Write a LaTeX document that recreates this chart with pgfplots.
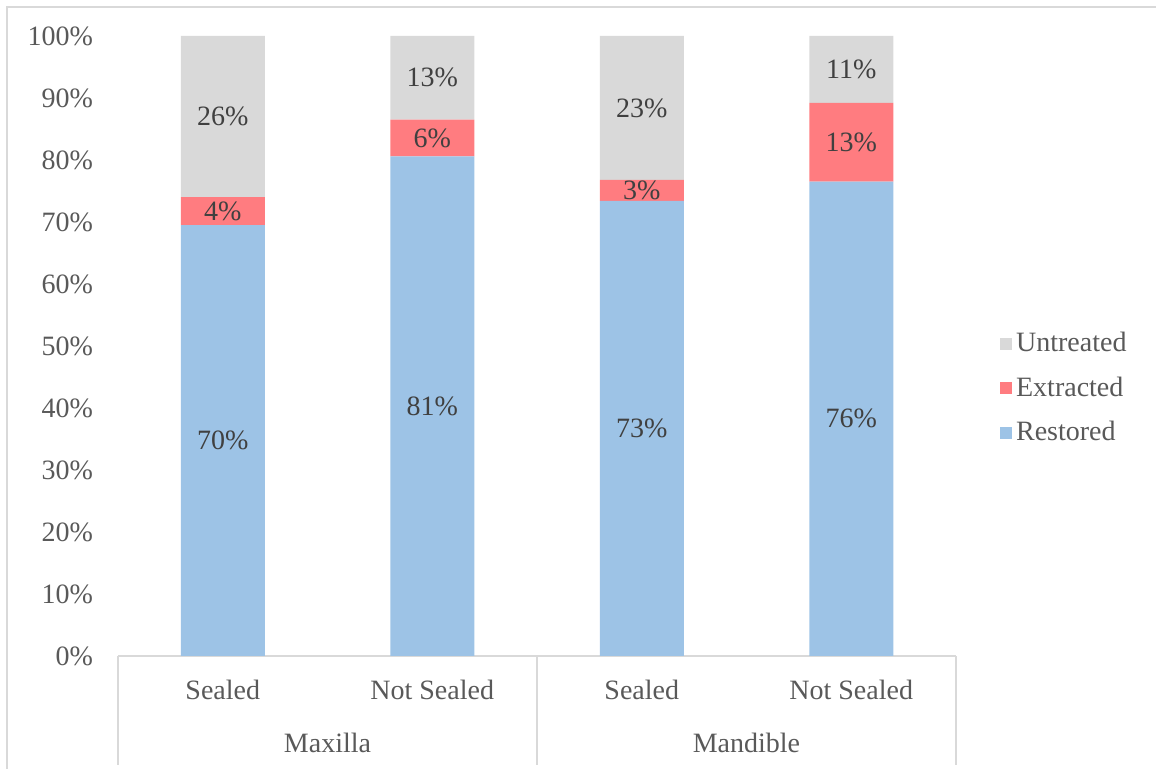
\documentclass[border=0pt]{standalone}
\usepackage{pgfplots}
\usepackage{pgfplotstable}
\pgfplotsset{compat=1.18}
\usepackage{fontspec}
\setmainfont{Liberation Serif}
\definecolor{cRest}{HTML}{9DC3E6}
\definecolor{cExt}{HTML}{FF7C80}
\definecolor{cUnt}{HTML}{D9D9D9}
\definecolor{tickc}{HTML}{595959}
\definecolor{labc}{HTML}{404040}
\definecolor{linec}{HTML}{D9D9D9}

\pgfplotstableread{
x r rl e el u ul
0 69.5 70 4.5 4 26.0 26
1 80.6 81 5.9 6 13.5 13
2 73.4 73 3.4 3 23.2 23
3 76.5 76 12.7 13 10.8 11
}\datatable

\begin{document}
\begin{tikzpicture}
\useasboundingbox (0,0) rectangle (578pt,384.5pt);
\draw[linec, line width=0.7pt] (3.5pt,0) -- (3.5pt,381pt) -- (578pt,381pt);
\begin{axis}[
  at={(59pt,56.5pt)}, anchor=south west,
  scale only axis, width=419pt, height=310pt,
  ybar stacked, bar width=42pt,
  xmin=-0.5, xmax=3.5, ymin=0, ymax=100,
  axis x line*=bottom, axis y line*=left,
  y axis line style={draw=none},
  x axis line style={draw=linec, line width=0.7pt},
  ytick={0,10,...,100},
  yticklabels={0\%,10\%,20\%,30\%,40\%,50\%,60\%,70\%,80\%,90\%,100\%},
  ytick style={draw=none},
  yticklabel style={font=\fontsize{14}{16}\selectfont, text=tickc, anchor=east, xshift=-9pt},
  xtick={0,1,2,3},
  xticklabels={Sealed,Not Sealed,Sealed,Not Sealed},
  major tick length=0pt,
  xtick style={draw=linec, line width=0.7pt},
  xticklabel style={font=\fontsize{14}{16}\selectfont, text=tickc, anchor=center, yshift=-17pt},
  extra x ticks={-0.5,1.5,3.5},
  extra x tick labels={},
  extra x tick style={major tick length=54.5pt, tick align=outside, tick style={draw=linec, line width=0.7pt}},
  clip=false,
  nodes near coords={\pgfplotspointmeta\%},
  point meta=explicit symbolic,
  every node near coord/.append style={font=\fontsize{14}{16}\selectfont, text=labc, anchor=center},
  reverse legend,
  legend style={draw=none, at={(1.045,0.432)}, anchor=west, font=\fontsize{14}{16}\selectfont, text=tickc, row sep=7pt, /tikz/every even column/.append style={column sep=2pt}},
  legend image code/.code={\fill[#1] (0pt,-3pt) rectangle (6pt,3pt);},
  legend cell align=left,
]
\addplot[fill=cRest, draw=none] table[x=x, y=r, meta=rl] {\datatable};
\addlegendentry{Restored}
\addplot[fill=cExt, draw=none] table[x=x, y=e, meta=el] {\datatable};
\addlegendentry{Extracted}
\addplot[fill=cUnt, draw=none] table[x=x, y=u, meta=ul] {\datatable};
\addlegendentry{Untreated}
\node[font=\fontsize{14}{16}\selectfont, text=tickc] at (axis cs:0.5,0) [yshift=-43.5pt] {Maxilla};
\node[font=\fontsize{14}{16}\selectfont, text=tickc] at (axis cs:2.5,0) [yshift=-43.5pt] {Mandible};
\end{axis}
\end{tikzpicture}
\end{document}
